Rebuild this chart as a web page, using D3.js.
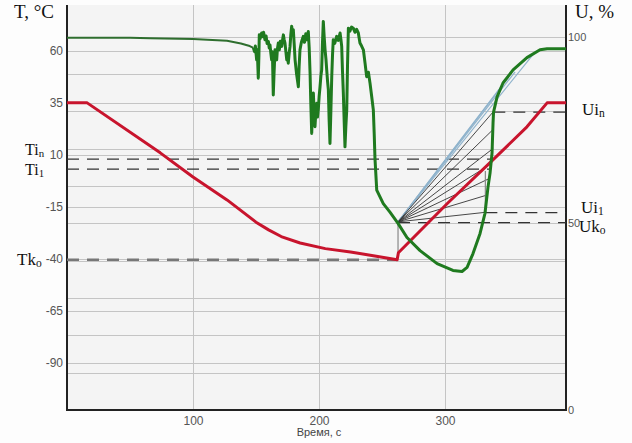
<!DOCTYPE html>
<html><head><meta charset="utf-8">
<script src="https://cdn.jsdelivr.net/npm/d3@7/dist/d3.min.js"></script>
<style>body{margin:0;background:#fdfdfd}svg{display:block}</style>
</head><body><svg id="c" width="632" height="443"></svg>
<script>
// ---- data ----
const xTicks = [100, 200, 300];
const tTicks = [60, 35, 10, -15, -40, -65, -90];
const uTicks = [0, 50, 100];
const uGrid = [10, 20, 30, 40, 50, 60, 70, 80, 90, 100];

// temperature (left axis, °C)
const redTime = [0, 16, 74, 100, 127, 150, 160, 170, 185, 205, 225, 262, 263, 302, 338, 365, 381, 396];
const redTemp = [35, 35, 11, -0.6, -11.6, -22.3, -26, -29.2, -32.3, -35, -36.6, -40.3, -37, -13.2, 7.6, 23.5, 35, 35];

// humidity (right axis, %)
const greenTime = [0, 50, 66, 100, 127, 138, 145, 147.9,
  148.8, 149.5, 150.5, 151.0, 151.8, 152.3, 152.6, 153.3, 154.5, 155.3, 156.0, 157.1, 158.0, 158.8, 159.8, 160.5, 161.1, 161.8, 162.4, 163.0, 163.7, 164.3, 165.1, 165.8, 166.4, 167.0, 167.7, 168.5, 169.3, 170.4, 171.0, 171.7, 172.3, 173, 173.7, 174.4, 175.0, 175.6, 176.3, 177, 177.6, 178.3, 179.0, 179.6, 180.3, 181, 182.2, 183.6, 184.2, 184.9, 186.0, 187.5, 188.5, 189.5, 190.5, 191.5, 192.2, 192.9, 193.5, 194.2, 194.8, 195.5, 196.1, 196.8, 197.5, 198.2, 198.8, 199.4, 200.1, 200.8, 201.5, 202.1, 202.7, 203.4, 204.1, 204.8, 205.5, 206.1, 206.8, 207.4, 208.0, 208.7, 209.4, 210.1, 210.7, 211.3, 212.5, 214, 215.3, 216.7, 217.3, 218, 218.6, 219.3, 220.0, 220.6, 221.3, 222, 222.6, 223.3, 224.5, 225.8, 227.2, 228.5, 229.8, 231.2, 231.9, 232.5, 233.8, 235.2, 236.5, 237.8, 239.2, 240.5, 241.8, 243.1, 243.8, 244.4,
  245.8, 251, 256.3, 262.7, 269.8, 280.2, 293.7, 306.3, 313.5, 317.5, 322.2, 327.8, 331.7, 334.1, 335.7, 337.3, 338.1, 338.5, 341.3, 346, 354, 365, 375.4, 381, 396];
const greenHum = [99.7, 99.7, 99.6, 99.4, 98.9, 98.2, 97.5, 97.0,
  96.0, 97.5, 93.8, 96.5, 88.9, 95, 100.5, 99.5, 101.0, 100.0, 101.2, 99.2, 100.2, 98.2, 98.7, 97.0, 97.8, 95.5, 93.8, 96.0, 84.4, 90, 96.5, 95.5, 93.8, 96.8, 98.3, 96.5, 98.8, 97.4, 99.0, 100.5, 99.3, 98.3, 96.0, 93.8, 95.5, 92.9, 95.5, 97.4, 100.5, 102.8, 100.8, 101.9, 98, 93.8, 90, 86.6, 92, 96.5, 98.5, 100.1, 98.5, 100.8, 99.2, 101.4, 97, 90.2, 82, 74.1, 80, 84.9, 80, 75.9, 80, 82.2, 78.5, 80.4, 84, 86.6, 89.5, 91.1, 98, 104.1, 100, 96.5, 94, 91.1, 88, 85.8, 78, 71.4, 80, 89.3, 95, 99.2, 98.2, 100.1, 99.0, 101.0, 99.5, 97.4, 91, 84.9, 77, 70.5, 76, 80.4, 92, 102.3, 101.5, 102.6, 102.3, 101.2, 102, 101.0, 99.5, 98.3, 97.5, 96.5, 93, 89.3, 90.5, 87.5, 84, 80.4, 74, 67.4,
  58.9, 55.3, 53.0, 50.0, 46.2, 42.7, 39.2, 37.4, 37.1, 38.2, 41.9, 47.3, 52.7, 59.7, 63.4, 68.8, 76.9, 79.8, 83.9, 87.6, 91.1, 94.4, 96.5, 96.8, 96.8];

// fan of chords from the final point (t=262.7, U=50)
const fanOrigin = [262.7, 50.4];
const fanBlackTime = [338.3, 338.3, 338.3, 336.5, 335.7, 332.5, 333.1];
const fanBlackHum = [79.9, 75.2, 70.1, 65.9, 62.1, 57.5, 53.0];
const fanBlueTime = [343.7, 346, 355.6, 369.8];
const fanBlueHum = [86.3, 87.1, 90.6, 95.2];

// marker levels
const tLevels = [{lab: "in", v: 8.0, end: 338}, {lab: "i1", v: 3.2, end: 336}, {lab: "ko", v: -40.3, end: 262.7}];
const uLevels = [{lab: "in", v: 79.8, start: 338.3}, {lab: "i1", v: 52.9, start: 332}, {lab: "ko", v: 50.2, start: 262.7}];

// ---- scales ----
const L = 67, R = 566, T = 5, B = 410;
const x = d3.scaleLinear().domain([0, 396]).range([L, R]);
const yT = d3.scaleLinear().domain([-112.5, 82]).range([B, T]);
const yU = d3.scaleLinear().domain([0, 108.5]).range([B, T]);

const svg = d3.select("#c");
svg.append("rect").attr("x", L).attr("y", T).attr("width", R - L).attr("height", B - T).attr("fill", "#f4f4f4");

// grid
const g = svg.append("g").attr("stroke", "#c4c4c4").attr("stroke-width", 1);
tTicks.forEach(v => g.append("line").attr("x1", L).attr("x2", R).attr("y1", Math.round(yT(v)) + 0.5).attr("y2", Math.round(yT(v)) + 0.5));
uGrid.forEach(v => g.append("line").attr("x1", L).attr("x2", R).attr("y1", Math.round(yU(v)) + 0.5).attr("y2", Math.round(yU(v)) + 0.5));
xTicks.forEach(v => g.append("line").attr("y1", T).attr("y2", B).attr("x1", Math.round(x(v)) + 0.5).attr("x2", Math.round(x(v)) + 0.5));

// axes
const font = "'Liberation Sans', Arial, sans-serif";
const fmt = d => String(d);
const axL = svg.append("g").attr("transform", `translate(${L},0)`).call(d3.axisLeft(yT).tickValues(tTicks).tickFormat(fmt).tickSize(0).tickPadding(4));
const axR = svg.append("g").attr("transform", `translate(${R},0)`).call(d3.axisRight(yU).tickValues(uTicks).tickFormat(fmt).tickSize(0).tickPadding(2));
const axB = svg.append("g").attr("transform", `translate(0,${B})`).call(d3.axisBottom(x).tickValues(xTicks).tickFormat(fmt).tickSize(0).tickPadding(6));
[axL, axR, axB].forEach(a => { a.select(".domain").remove(); a.selectAll("text").attr("font-family", font).attr("font-size", 12).style("fill", "#555"); });
axR.selectAll("text").attr("font-size", 11);

// frame
svg.append("path").attr("d", `M${L},${T}V${B}H${R}V${T}`).attr("fill", "none").attr("stroke", "#222").attr("stroke-width", 2);

// dashed markers
tLevels.forEach((d, i) => svg.append("line").attr("x1", L).attr("x2", x(d.end)).attr("y1", yT(d.v)).attr("y2", yT(d.v))
  .attr("stroke", i === 2 ? "#777" : "#333").attr("stroke-width", i === 2 ? 2.5 : 1.2).attr("stroke-dasharray", "12,8"));
uLevels.forEach(d => svg.append("line").attr("x1", x(d.start)).attr("x2", R).attr("y1", yU(d.v)).attr("y2", yU(d.v))
  .attr("stroke", "#333").attr("stroke-width", 1.3).attr("stroke-dasharray", "12,8"));

// fan
fanBlueTime.forEach((t, i) => svg.append("line").attr("x1", x(fanOrigin[0])).attr("y1", yU(fanOrigin[1])).attr("x2", x(t)).attr("y2", yU(fanBlueHum[i])).attr("stroke", "#8fb3cc").attr("stroke-width", 1.2));
fanBlackTime.forEach((t, i) => svg.append("line").attr("x1", x(fanOrigin[0])).attr("y1", yU(fanOrigin[1])).attr("x2", x(t)).attr("y2", yU(fanBlackHum[i])).attr("stroke", "#333").attr("stroke-width", 0.9));
// vertical connectors
svg.append("line").attr("x1", x(262.7)).attr("x2", x(262.7)).attr("y1", yU(50.4)).attr("y2", yT(-37)).attr("stroke", "#888").attr("stroke-width", 1.2);
svg.append("line").attr("x1", x(332)).attr("x2", x(332)).attr("y1", yU(64)).attr("y2", yU(53)).attr("stroke", "#888").attr("stroke-width", 1.2);

// curves
const lineT = d3.line().x((d, i) => x(redTime[i])).y(d => yT(d));
svg.append("path").attr("d", lineT(redTemp)).attr("fill", "none").attr("stroke", "#c8142d").attr("stroke-width", 3).attr("stroke-linejoin", "round");
const pts = greenTime.map((t, i) => [t, greenHum[i]]);
const lineU = d3.line().x(d => x(d[0])).y(d => yU(d[1]));
svg.append("path").attr("d", lineU(pts.filter(d => d[0] <= 148))).attr("fill", "none").attr("stroke", "#2e6e2e").attr("stroke-width", 2).attr("stroke-linejoin", "round");
svg.append("path").attr("d", lineU(pts.filter(d => d[0] >= 147.9))).attr("fill", "none").attr("stroke", "#1f7a1f").attr("stroke-width", 3).attr("stroke-linejoin", "round");

// labels
const serif = "'Liberation Serif', 'Times New Roman', serif";
function lab(xp, yp, main, sub, size) {
  const t = svg.append("text").attr("x", xp).attr("y", yp).attr("font-family", serif).attr("font-size", size).attr("fill", "#111");
  t.append("tspan").text(main);
  if (sub) t.append("tspan").attr("font-size", size * 0.68).attr("dy", "0.2em").text(sub);
}
lab(14, 18, "T, °C", null, 19);
lab(575, 18, "U, %", null, 19);
lab(25, 155, "Ti", "n", 16);
lab(25, 175, "Ti", "1", 16);
lab(17, 265, "Tk", "o", 17);
lab(582, 115, "Ui", "n", 17);
lab(581, 213, "Ui", "1", 17);
lab(579, 232, "Uk", "o", 17);
svg.append("text").attr("x", x(200)).attr("y", 436).attr("text-anchor", "middle").attr("font-family", font).attr("font-size", 11).style("fill", "#444").text("Время, с");
</script></body></html>
